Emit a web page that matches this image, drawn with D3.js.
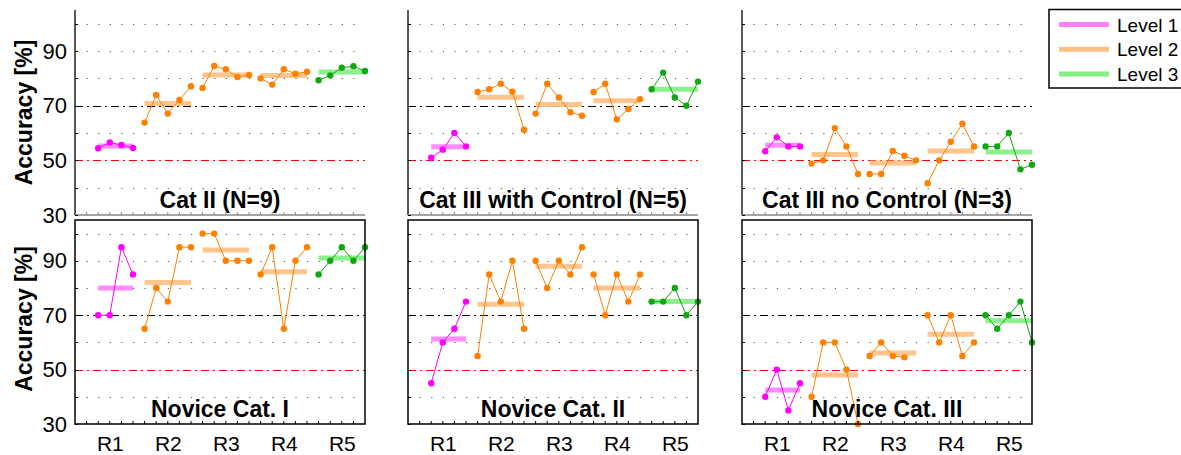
<!DOCTYPE html>
<html>
<head>
<meta charset="utf-8">
<script src="https://cdn.jsdelivr.net/npm/d3@7"></script>
<style>
  html, body { margin: 0; padding: 0; background: #fff; }
  text { font-family: "Liberation Sans", Arial, Helvetica, sans-serif; }
</style>
</head>
<body>
<script>
// ---------------- data ----------------
const rounds = ["R1", "R2", "R3", "R4", "R5"];
const roundCenters = [3, 8, 13, 18, 23];
const roundStart = [2, 6, 11, 16, 21];
const roundEnd = [5, 10, 15, 20, 25];
const roundLevel = [1, 2, 2, 2, 3];
const levels = ["Level 1", "Level 2", "Level 3"];
const yTickLabels = [30, 50, 70, 90];
const yMinorTicks = [30, 40, 50, 60, 70, 80, 90, 100];
const gridDotted = [40, 60, 80, 90, 100];
const chanceLine = 50;
const targetLine = 70;

const panelTitles = ["Cat II (N=9)", "Cat III with Control (N=5)", "Cat III no Control (N=3)",
                     "Novice Cat. I", "Novice Cat. II", "Novice Cat. III"];

const catII = [
  [54.4, 56.5, 55.6, 54.5],
  [63.8, 73.9, 67.1, 72.1, 77.1],
  [76.5, 84.5, 83.3, 80.5, 81.2],
  [80.0, 77.7, 83.3, 81.7, 82.4],
  [79.3, 81.1, 83.9, 84.4, 82.7]
];
const catIIIControl = [
  [51.0, 53.9, 60.0, 55.1],
  [75.0, 76.0, 78.0, 75.1, 61.2],
  [67.1, 78.0, 73.0, 67.6, 66.3],
  [75.0, 78.0, 65.0, 68.8, 72.4],
  [76.0, 82.1, 73.0, 70.0, 78.8]
];
const catIIINoControl = [
  [53.3, 58.4, 55.1, 55.1],
  [48.8, 50.0, 61.8, 55.1, 45.0],
  [45.0, 45.0, 53.4, 51.7, 50.0],
  [41.6, 50.0, 56.8, 63.4, 55.1],
  [55.1, 55.1, 60.0, 46.7, 48.4]
];
const noviceI = [
  [70, 70, 95, 85],
  [65, 80, 75, 95, 95],
  [100, 100, 90, 90, 90],
  [85, 95, 65, 90, 95],
  [85, 90, 95, 90, 95]
];
const noviceII = [
  [45, 60, 65, 75],
  [55, 85, 75, 90, 65],
  [90, 80, 90, 85, 95],
  [85, 70, 85, 75, 85],
  [75, 75, 80, 70, 75]
];
const noviceIII = [
  [40, 50, 35, 45],
  [40, 60, 60, 50, 30],
  [55, 60, 55, 54.5, null],
  [70, 60, 70, 55, 60],
  [70, 65, 70, 75, 60]
];
const panelData = [catII, catIIIControl, catIIINoControl, noviceI, noviceII, noviceIII];

// ---------------- styles ----------------
const pointColor = ["#ff00ff", "#ff8000", "#10a810"];
const meanColor = ["#ff80ff", "#ffbf80", "#80f080"];

// ---------------- layout ----------------
const W = 1181, H = 455;
const colLeft = [75, 408, 742];
const panelW = 290;
const rows = [{top: 10, bottom: 215, boxed: false}, {top: 220, bottom: 424, boxed: true}];
const crisp = v => Math.round(v) + 0.5;

const svg = d3.select("body").append("svg").attr("width", W).attr("height", H);

panelData.forEach((data, pi) => {
  const row = rows[Math.floor(pi / 3)];
  const col = pi % 3;
  const left = colLeft[col];
  const x = d3.scaleLinear().domain([0, 25]).range([left, left + panelW]);
  const y = d3.scaleLinear().domain([30, 105]).range([row.bottom, row.top]);
  const g = svg.append("g");

  // grid
  g.selectAll(".gd").data(gridDotted).join("line")
    .attr("x1", x(0)).attr("x2", x(25))
    .attr("y1", d => crisp(y(d))).attr("y2", d => crisp(y(d)))
    .attr("stroke", "#555").attr("stroke-width", 1)
    .attr("stroke-dasharray", "1.2,10.4");
  g.append("line").attr("x1", x(0)).attr("x2", x(25))
    .attr("y1", crisp(y(targetLine))).attr("y2", crisp(y(targetLine)))
    .attr("stroke", "#000").attr("stroke-width", 1)
    .attr("stroke-dasharray", "8,4,2,4");
  g.append("line").attr("x1", x(0)).attr("x2", x(25))
    .attr("y1", crisp(y(chanceLine))).attr("y2", crisp(y(chanceLine)))
    .attr("stroke", "#ff0000").attr("stroke-width", 1)
    .attr("stroke-dasharray", "8,4,2,4");

  // per round
  data.forEach((vals, ri) => {
    const lvl = roundLevel[ri] - 1;
    const pts = vals.map((v, i) => ({x: roundStart[ri] + i, v})).filter(d => d.v !== null);
    const m = d3.mean(vals.filter(v => v !== null));
    g.append("line")
      .attr("x1", x(roundStart[ri])).attr("x2", x(roundEnd[ri]))
      .attr("y1", y(m)).attr("y2", y(m))
      .attr("stroke", meanColor[lvl]).attr("stroke-width", 5).attr("opacity", 0.9);
    g.append("path").datum(pts)
      .attr("d", d3.line().x(d => x(d.x)).y(d => y(d.v)))
      .attr("fill", "none").attr("stroke", pointColor[lvl]).attr("stroke-width", 1);
    g.selectAll(null).data(pts).join("circle")
      .attr("cx", d => x(d.x)).attr("cy", d => y(d.v)).attr("r", 3.2)
      .attr("fill", pointColor[lvl]);
  });

  // title
  g.append("text")
    .attr("x", (x(0) + x(25)) / 2).attr("y", row.bottom - 7)
    .attr("text-anchor", "middle").attr("font-size", 23).attr("font-weight", "bold")
    .text(panelTitles[pi]);

  // axes frame
  if (row.boxed) {
    g.append("rect").attr("x", x(0)).attr("y", y(105)).attr("width", x(25) - x(0))
      .attr("height", y(30) - y(105)).attr("fill", "none").attr("stroke", "#000").attr("stroke-width", 1.5);
  } else {
    g.append("line").attr("x1", x(0)).attr("x2", x(0)).attr("y1", y(105)).attr("y2", y(30))
      .attr("stroke", "#222").attr("stroke-width", 1.5);
    g.append("line").attr("x1", x(0)).attr("x2", x(25)).attr("y1", y(30)).attr("y2", y(30))
      .attr("stroke", "#888").attr("stroke-width", 1.5);
  }
  // minor ticks on y
  g.selectAll(null).data(yMinorTicks).join("line")
    .attr("x1", x(0)).attr("x2", x(0) + 3)
    .attr("y1", d => crisp(y(d))).attr("y2", d => crisp(y(d)))
    .attr("stroke", "#000").attr("stroke-width", 1);
  // minor ticks on x
  g.selectAll(null).data(d3.range(1, 25)).join("line")
    .attr("x1", d => x(d)).attr("x2", d => x(d))
    .attr("y1", y(30)).attr("y2", y(30) - 3)
    .attr("stroke", row.boxed ? "#000" : "#888").attr("stroke-width", 1);

  // y tick labels
  if (col === 0) {
    const ya = d3.axisLeft(y).tickValues(yTickLabels).tickSize(0).tickPadding(8).tickFormat(d3.format("d"));
    const ag = g.append("g").attr("transform", `translate(${x(0)},0)`).call(ya);
    ag.select(".domain").remove();
    ag.selectAll("text").attr("font-size", 22).attr("fill", "#000")
      .style("font-family", '"Liberation Sans", Arial, sans-serif');
    g.append("text")
      .attr("transform", `translate(32,${row.boxed ? 319 : 112.5}) rotate(-90)`)
      .attr("text-anchor", "middle").attr("font-size", 23).attr("font-weight", "bold")
      .text("Accuracy [%]");
  }
  // x tick labels
  if (row.boxed) {
    const xa = d3.axisBottom(x).tickValues(roundCenters).tickSize(0).tickPadding(12)
      .tickFormat((d, i) => rounds[i]);
    const ag = g.append("g").attr("transform", `translate(0,${y(30)})`).call(xa);
    ag.select(".domain").remove();
    ag.selectAll("text").attr("font-size", 21).attr("fill", "#000")
      .style("font-family", '"Liberation Sans", Arial, sans-serif');
  }
});

// legend
const lg = svg.append("g");
lg.append("rect").attr("x", 1049).attr("y", 9.5).attr("width", 140).attr("height", 78.5)
  .attr("fill", "#fff").attr("stroke", "#000").attr("stroke-width", 1.5);
levels.forEach((name, i) => {
  const ly = 24.5 + i * 24.7;
  lg.append("line").attr("x1", 1059).attr("x2", 1109).attr("y1", ly).attr("y2", ly)
    .attr("stroke", meanColor[i]).attr("stroke-width", 5);
  lg.append("text").attr("x", 1117).attr("y", ly + 7).attr("font-size", 19).text(name);
});
</script>
</body>
</html>
